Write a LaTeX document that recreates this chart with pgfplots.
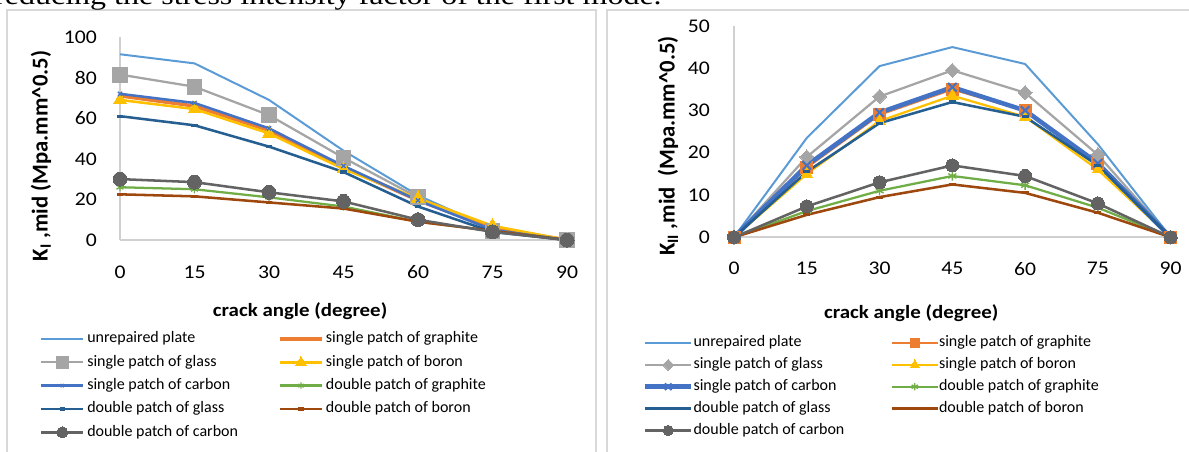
\documentclass[border=0pt]{standalone}
\usepackage{pgfplots}
\pgfplotsset{compat=1.18}
\usepackage{fontspec}
\setmainfont{Carlito}
\newfontfamily\wide{Carlito}[FakeStretch=1.12]
\newfontfamily\paper{Liberation Serif}[FakeStretch=1.2]

\definecolor{unrep}{HTML}{5B9BD5}
\definecolor{sgraph}{HTML}{ED7D31}
\definecolor{sglass}{HTML}{A5A5A5}
\definecolor{sboron}{HTML}{FFC000}
\definecolor{scarb}{HTML}{4472C4}
\definecolor{dgraph}{HTML}{70AD47}
\definecolor{dglass}{HTML}{255E91}
\definecolor{dboron}{HTML}{9E480E}
\definecolor{dcarb}{HTML}{636363}
\definecolor{axisgray}{HTML}{D0D0D0}
\definecolor{framegray}{HTML}{D9D9D9}

\pgfplotsset{
  excel/.style={
    scale only axis, clip=false,
    axis x line*=bottom, axis y line*=left,
    axis line style={draw=axisgray, line width=1.5pt, -},
    major tick length=0pt,
    xtick style={draw=none}, ytick style={draw=none},
    xmin=0, xmax=90, xtick={0,15,...,90},
    /pgf/number format/assume math mode=true,
    tick label style={font=\wide\fontsize{14.5}{16}\selectfont, inner sep=0pt},
    xticklabel style={anchor=north},
    yticklabel style={anchor=east},
    xlabel style={font=\wide\bfseries\fontsize{14}{16}\selectfont, anchor=center},
    ylabel style={font=\bfseries\fontsize{17}{19}\selectfont, anchor=center},
    legend columns=2,
    legend cell align=left,
    legend style={draw=none, fill=none, inner sep=0pt, outer sep=0pt,
      column sep=0pt, anchor=north west,
      font=\fontsize{12}{14}\selectfont,
      nodes={inner sep=0pt, text height=9pt, text depth=3pt,
             font=\fontsize{12}{14}\selectfont}},
    every axis plot/.append style={line join=round},
  },
  % legend sample: a line with one smaller mark in its middle
  sample/.style 2 args={
    legend image code/.code={
      \draw[mark repeat=2, mark phase=2, every mark/.append style={scale=0.78}, ##1]
        plot coordinates {(0pt,0pt) (#1/2,0pt) (#1,0pt)};
      \pgfpathrectangle{\pgfpoint{0pt}{-3pt}}{\pgfpoint{#2}{6pt}}
      \pgfusepath{discard}
    },
  },
}

\begin{document}
\begin{tikzpicture}
\path[use as bounding box] (0pt,0pt) rectangle (891.75pt,338.25pt);
\clip (0pt,0pt) rectangle (891.75pt,338.25pt);

% chart frames
\draw[framegray, line width=1.5pt] (5.25pt,-10pt) -- (5.25pt,330.75pt) -- (447pt,330.75pt) -- (447pt,-10pt);
\draw[framegray, line width=1.5pt] (455.25pt,-10pt) -- (455.25pt,330.75pt) -- (900pt,330.75pt);

% last line of the running text above the figure
\node[anchor=base west, inner sep=0pt, font=\paper\fontsize{20}{24}\selectfont]
  at (-4.5pt,335pt) {reducing the stress intensity factor of the first mode.};

% ---------------- K_I ----------------
\begin{axis}[excel,
  at={(90pt,158.25pt)}, anchor=south west,
  width=335.25pt, height=152.25pt,
  ymin=0, ymax=100, ytick={0,20,...,100},
  xticklabel style={yshift=-19.2pt},
  yticklabel style={xshift=-17.25pt},
  xlabel={crack angle (degree)},
  xlabel style={at={(axis description cs:0.403,-0.35)}},
  ylabel={K\textsubscript{I} ,mid (Mpa.mm\textasciicircum 0.5)},
  ylabel style={at={(axis description cs:-0.177,0.414)}},
  legend style={at={(axis description cs:-0.179,-0.448)}, row sep=5.5pt},
  sample={31.5pt}{34.5pt},
]
\addplot[unrep, line width=1.5pt, no marks]
  coordinates {(0,91.5)(15,87)(30,69)(45,44)(60,22)(75,5.5)(90,0)};
\addlegendentry{\makebox[143.25pt][l]{unrepaired plate}}
\addplot[sgraph, line width=2.6pt, mark=diamond*, mark size=1.5pt, mark options={line width=0pt}]
  coordinates {(0,71)(15,66)(30,54)(45,36)(60,19.5)(75,6)(90,0)};
\addlegendentry{single patch of graphite}
\addplot[sglass, line width=1.7pt, mark=square*, mark size=5.6pt, mark options={line width=0pt}]
  coordinates {(0,81.5)(15,75.5)(30,61.5)(45,40.5)(60,21)(75,4.5)(90,0)};
\addlegendentry{\makebox[143.25pt][l]{single patch of glass}}
\addplot[sboron, line width=1.9pt, mark=triangle*, mark size=5.6pt, mark options={line width=0pt}]
  coordinates {(0,69)(15,64.5)(30,52.5)(45,35)(60,20.5)(75,7)(90,0)};
\addlegendentry{single patch of boron}
\addplot[scarb, line width=1.9pt, mark=x, mark size=2.2pt, mark options={line width=1pt}]
  coordinates {(0,72)(15,67.5)(30,55)(45,36.5)(60,19.5)(75,5)(90,0)};
\addlegendentry{\makebox[143.25pt][l]{single patch of carbon}}
\addplot[dgraph, line width=1.7pt, mark=asterisk, mark size=3pt, mark options={line width=1pt}]
  coordinates {(0,26)(15,25)(30,21)(45,16.5)(60,9)(75,4.5)(90,0)};
\addlegendentry{double patch of graphite}
\addplot[dglass, line width=1.9pt, mark=-, mark size=2.6pt, mark options={line width=2.4pt}]
  coordinates {(0,61)(15,56.5)(30,46)(45,33.5)(60,16.5)(75,4)(90,0)};
\addlegendentry{\makebox[143.25pt][l]{double patch of glass}}
\addplot[dboron, line width=1.9pt, mark=-, mark size=2.6pt, mark options={line width=2.4pt}]
  coordinates {(0,22.5)(15,21.5)(30,18.5)(45,15.5)(60,9)(75,4.5)(90,0)};
\addlegendentry{double patch of boron}
\addplot[dcarb, line width=1.9pt, mark=*, mark size=5.25pt, mark options={line width=0pt}]
  coordinates {(0,30)(15,28.5)(30,23.5)(45,19)(60,10)(75,4)(90,0)};
\addlegendentry{\makebox[143.25pt][l]{double patch of carbon}}
\end{axis}

% ---------------- K_II ----------------
\begin{axis}[excel,
  at={(550.5pt,160.3pt)}, anchor=south west,
  width=327.5pt, height=158.5pt,
  ymin=0, ymax=50, ytick={0,10,...,50},
  xticklabel style={yshift=-18.5pt},
  yticklabel style={xshift=-18pt},
  xlabel={crack angle (degree)},
  xlabel style={at={(axis description cs:0.406,-0.358)}},
  ylabel={K\textsubscript{II} ,mid\ \ (Mpa.mm\textasciicircum 0.5)},
  ylabel style={at={(axis description cs:-0.151,0.432)}},
  legend style={at={(axis description cs:-0.2084,-0.4624)}, row sep=4.4pt},
  sample={34.5pt}{35.25pt},
]
\addplot[unrep, line width=1.5pt, no marks]
  coordinates {(0,0)(15,23.5)(30,40.5)(45,45)(60,41)(75,22)(90,0)};
\addlegendentry{\makebox[147.75pt][l]{unrepaired plate}}
\addplot[sgraph, line width=1.7pt, mark=square*, mark size=4.5pt, mark options={line width=0pt}]
  coordinates {(0,0)(15,16.5)(30,29)(45,35)(60,30)(75,17.5)(90,0)};
\addlegendentry{single patch of graphite}
\addplot[sglass, line width=1.7pt, mark=square*, mark size=3.7pt, mark options={line width=0pt, rotate=45}]
  coordinates {(0,0)(15,19)(30,33.3)(45,39.5)(60,34.2)(75,19.5)(90,0)};
\addlegendentry{\makebox[147.75pt][l]{single patch of glass}}
\addplot[sboron, line width=1.7pt, mark=triangle*, mark size=5pt, mark options={line width=0pt}]
  coordinates {(0,0)(15,15)(30,27.5)(45,33.5)(60,28.5)(75,16)(90,0)};
\addlegendentry{single patch of boron}
\addplot[scarb, line width=3.4pt, mark=x, mark size=4.5pt, mark options={line width=1.5pt}]
  coordinates {(0,0)(15,17)(30,29.5)(45,35.5)(60,30)(75,17.5)(90,0)};
\addlegendentry{\makebox[147.75pt][l]{single patch of carbon}}
\addplot[dgraph, line width=1.7pt, mark=asterisk, mark size=3.5pt, mark options={line width=1pt}]
  coordinates {(0,0)(15,6.2)(30,11)(45,14.5)(60,12.3)(75,7)(90,0)};
\addlegendentry{double patch of graphite}
\addplot[dglass, line width=1.9pt, mark=-, mark size=2.6pt, mark options={line width=2.4pt}]
  coordinates {(0,0)(15,15.5)(30,27)(45,32)(60,28.5)(75,17)(90,0)};
\addlegendentry{\makebox[147.75pt][l]{double patch of glass}}
\addplot[dboron, line width=1.9pt, mark=-, mark size=2.6pt, mark options={line width=2.4pt}]
  coordinates {(0,0)(15,5.3)(30,9.5)(45,12.5)(60,10.5)(75,5.8)(90,0)};
\addlegendentry{double patch of boron}
\addplot[dcarb, line width=1.9pt, mark=*, mark size=4.9pt, mark options={line width=0pt}]
  coordinates {(0,0)(15,7.3)(30,13)(45,17)(60,14.5)(75,8)(90,0)};
\addlegendentry{\makebox[147.75pt][l]{double patch of carbon}}
\end{axis}
\end{tikzpicture}
\end{document}
